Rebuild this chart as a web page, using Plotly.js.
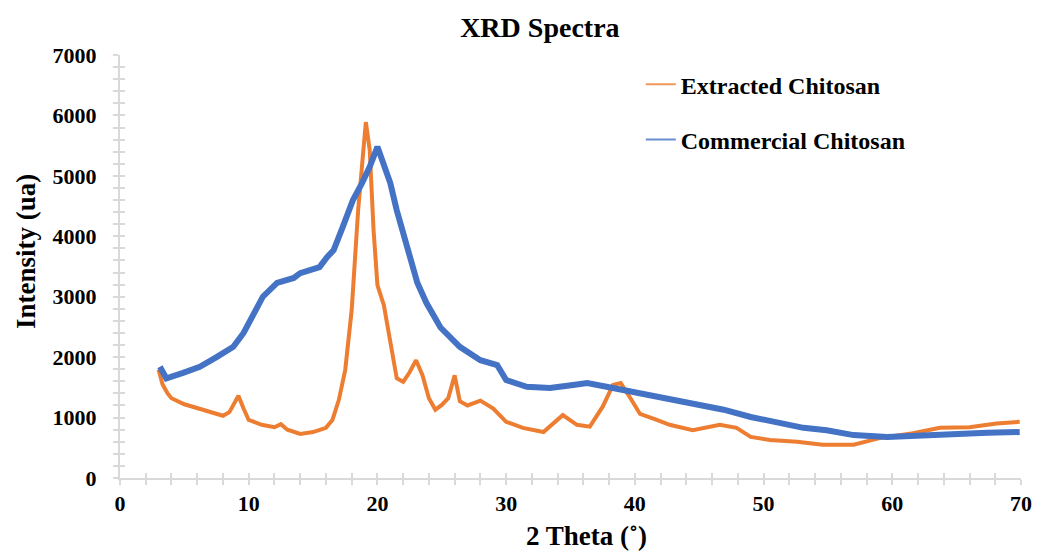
<!DOCTYPE html>
<html>
<head>
<meta charset="utf-8">
<script src="https://cdn.plot.ly/plotly-3.0.1.min.js"></script>
<style>html,body{margin:0;padding:0;background:#fff;}#chart{width:1046px;height:553px;}</style>
</head>
<body>
<div id="chart"></div>
<script>
// Extracted Chitosan (orange)
const extractedTheta = [3.0, 3.3, 3.7, 4.0, 5.0, 6.0, 7.0, 8.0, 8.5, 9.2, 9.6, 10.0, 11.0, 12.0, 12.5, 13.0, 14.0, 15.0, 16.0, 16.5, 17.0, 17.5, 18.0, 18.5, 19.1, 19.4, 19.7, 20.0, 20.5, 21.0, 21.5, 22.0, 22.5, 23.0, 23.5, 24.0, 24.5, 25.0, 25.5, 26.0, 26.4, 27.0, 28.0, 29.0, 30.0, 31.3, 32.9, 34.4, 35.5, 36.5, 37.5, 38.3, 38.9, 39.6, 40.4, 41.7, 42.7, 44.5, 46.6, 47.9, 49.0, 50.5, 52.6, 54.6, 57.0, 59.0, 61.6, 63.7, 66.0, 68.1, 69.9];
const extractedIntensity = [1790, 1550, 1400, 1320, 1220, 1160, 1090, 1030, 1090, 1360, 1150, 960, 880, 840, 890, 800, 730, 760, 830, 960, 1290, 1790, 2780, 4430, 5890, 5430, 4100, 3190, 2860, 2280, 1650, 1590, 1750, 1950, 1700, 1320, 1130, 1210, 1320, 1700, 1270, 1200, 1280, 1150, 930, 830, 760, 1040, 880, 850, 1180, 1540, 1570, 1340, 1060, 960, 880, 790, 880, 830, 680, 630, 600, 550, 550, 660, 740, 830, 840, 900, 930];

// Commercial Chitosan (blue)
const commercialTheta = [3.1, 3.6, 4.9, 6.2, 7.5, 8.8, 9.6, 10.3, 11.1, 12.2, 13.5, 14.0, 14.8, 15.5, 16.1, 16.6, 17.3, 18.1, 18.8, 19.4, 20.0, 20.4, 21.0, 21.5, 22.0, 22.5, 23.1, 23.8, 24.9, 26.4, 28.0, 29.3, 30.0, 31.6, 33.4, 35.2, 36.3, 37.8, 39.4, 42.2, 44.8, 46.9, 49.0, 51.0, 53.1, 54.9, 57.0, 59.6, 62.2, 64.7, 67.4, 69.9];
const commercialIntensity = [1840, 1650, 1740, 1840, 2000, 2170, 2400, 2670, 3000, 3230, 3310, 3390, 3440, 3490, 3660, 3770, 4150, 4600, 4880, 5150, 5480, 5260, 4880, 4430, 4050, 3660, 3230, 2900, 2490, 2170, 1950, 1870, 1620, 1510, 1490, 1540, 1570, 1510, 1440, 1340, 1210, 1130, 1010, 910, 830, 790, 710, 680, 710, 740, 750, 760];

const seriesNames = ["Extracted Chitosan", "Commercial Chitosan"];
const seriesColors = ["#ED7D31", "#4472C4"];
const chartTitle = "XRD Spectra";
const xTitle = "2 Theta (\u02DA)";
const yTitle = "Intensity (ua)";

const serif = "'Liberation Serif', 'Times New Roman', serif";
const axisGray = "#d9d9d9";

const traces = [
  {x: extractedTheta, y: extractedIntensity, type: "scatter", mode: "lines", name: seriesNames[0],
   showlegend: false, line: {color: seriesColors[0], width: 4}},
  {x: commercialTheta, y: commercialIntensity, type: "scatter", mode: "lines", name: seriesNames[1],
   showlegend: false, line: {color: seriesColors[1], width: 6}},
  // legend-only entries (thin legend lines as in the reference)
  {x: [null], y: [null], type: "scatter", mode: "lines", name: seriesNames[0], legendgroup: "a",
   line: {color: seriesColors[0], width: 2}, opacity: 0.8},
  {x: [null], y: [null], type: "scatter", mode: "lines", name: seriesNames[1], legendgroup: "b",
   line: {color: seriesColors[1], width: 2}, opacity: 0.8},
  {x: [], y: [], xaxis: "x2", yaxis: "y2", type: "scatter", mode: "lines", showlegend: false, hoverinfo: "skip"}
];

const tickFont = {family: serif, size: 22, color: "#000", weight: "bold"};
const commonAxis = {
  showgrid: false, zeroline: false, showline: true, linecolor: axisGray, linewidth: 2,
  ticks: "outside", ticklen: 5, tickwidth: 2, tickcolor: axisGray
};

const layout = {
  width: 1046, height: 553,
  margin: {l: 120, r: 25, t: 55, b: 75},
  paper_bgcolor: "#fff", plot_bgcolor: "#fff",
  title: {text: "<b>" + chartTitle + "</b>", xref: "paper", x: 0.466, xanchor: "center", y: 0.951, yanchor: "middle",
          font: {family: serif, size: 28, color: "#000"}},
  showlegend: true,
  legend: {x: 0.578, y: 0.983, xanchor: "left", yanchor: "top", traceorder: "grouped", tracegroupgap: 21,
           itemwidth: 30,
           font: {family: serif, size: 24, color: "#000", weight: "bold"}, bgcolor: "rgba(0,0,0,0)"},
  xaxis: Object.assign({}, commonAxis, {
    range: [0, 70], tick0: 0, dtick: 10, tickfont: tickFont, ticklabelstandoff: 0,
    minor: {dtick: 2, ticks: "outside", ticklen: 5, tickwidth: 2, tickcolor: axisGray, showgrid: false}
  }),
  yaxis: Object.assign({}, commonAxis, {
    range: [0, 7000], tick0: 0, dtick: 1000, tickfont: tickFont, ticklabelstandoff: 12,
    minor: {dtick: 200, ticks: "outside", ticklen: 5, tickwidth: 2, tickcolor: axisGray, showgrid: false}
  }),
  xaxis2: {overlaying: "x", range: [0, 70], tick0: 0, dtick: 10, anchor: "y2", side: "bottom",
    showgrid: false, zeroline: false, showline: false, showticklabels: false,
    ticks: "inside", ticklen: 5, tickwidth: 2, tickcolor: axisGray,
    minor: {dtick: 2, ticks: "inside", ticklen: 5, tickwidth: 2, tickcolor: axisGray, showgrid: false}},
  yaxis2: {overlaying: "y", range: [0, 7000], tick0: 0, dtick: 1000, anchor: "x2", side: "left",
    showgrid: false, zeroline: false, showline: false, showticklabels: false,
    ticks: "inside", ticklen: 5, tickwidth: 2, tickcolor: axisGray,
    minor: {dtick: 200, ticks: "inside", ticklen: 5, tickwidth: 2, tickcolor: axisGray, showgrid: false}},
  annotations: [
    {text: "<b>" + xTitle + "</b>", xref: "paper", yref: "paper", x: 0.518, y: -0.138,
     xanchor: "center", yanchor: "middle", showarrow: false,
     font: {family: serif, size: 27, color: "#000"}},
    {text: "<b>" + yTitle + "</b>", xref: "paper", yref: "paper", x: -0.105, y: 0.535,
     xanchor: "center", yanchor: "middle", showarrow: false, textangle: -90,
     font: {family: serif, size: 27, color: "#000"}}
  ]
};

Plotly.newPlot("chart", traces, layout, {displayModeBar: false, staticPlot: true});
</script>
</body>
</html>
